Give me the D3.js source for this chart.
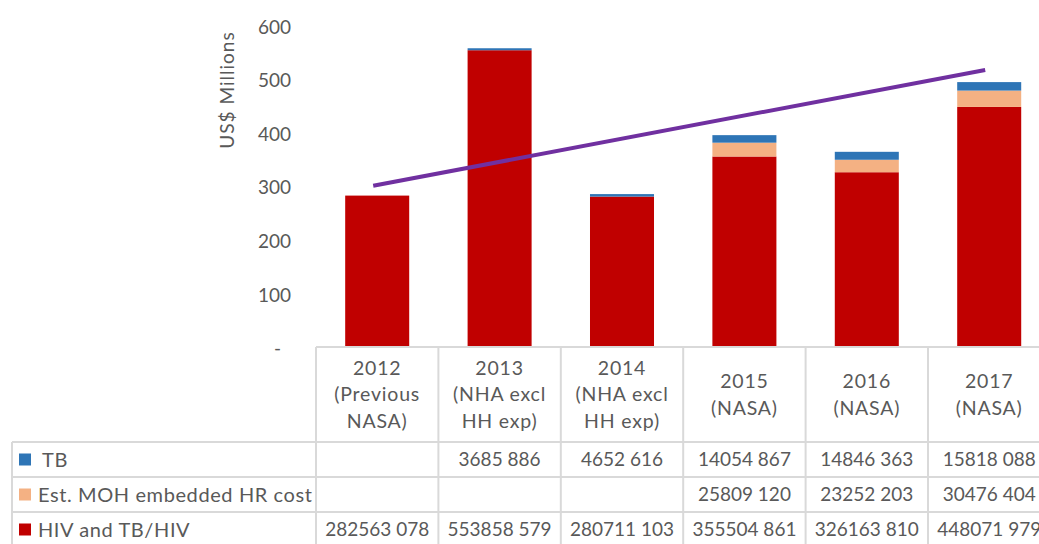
<!DOCTYPE html>
<html>
<head>
<meta charset="utf-8">
<script src="https://cdn.jsdelivr.net/npm/d3@7"></script>
<style>
  body { margin: 0; background: #fff; }
  svg text { font-family: Lato, "Open Sans", sans-serif; fill: #595959; }
</style>
</head>
<body>
<div id="chartArea"></div>
<script>
// data
var categories = [
  ["2012", "(Previous", "NASA)"],
  ["2013", "(NHA excl", "HH exp)"],
  ["2014", "(NHA excl", "HH exp)"],
  ["2015", "(NASA)"],
  ["2016", "(NASA)"],
  ["2017", "(NASA)"]
];
var tb = [null, 3685886, 4652616, 14054867, 14846363, 15818088];
var moh = [null, null, null, 25809120, 23252203, 30476404];
var hiv = [282563078, 553858579, 280711103, 355504861, 326163810, 448071979];
var trendCats = [0, 5];
var trendVals = [301, 517];
var yTicks = [0, 100, 200, 300, 400, 500, 600];

var seriesNames = ["TB", "Est. MOH embedded HR cost", "HIV and TB/HIV"];
var seriesData = [tb, moh, hiv];
var colors = ["#2E75B6", "#F4B183", "#C00000"];

var width = 1039, height = 544;

var svg = d3.select("#chartArea")
  .append("svg")
  .attr("width", width)
  .attr("height", height);

var x = d3.scaleBand()
  .domain(d3.range(categories.length))
  .range([316, 316 + 6 * 122.4])
  .paddingInner(0.477)
  .paddingOuter(0.2385);

var y = d3.scaleLinear().domain([0, 600]).range([347, 25.5]);

// y axis
var yAxis = d3.axisLeft(y)
  .tickValues(yTicks)
  .tickSize(0)
  .tickPadding(0)
  .tickFormat(function (d) { return d === 0 ? "-" : d; });

var gy = svg.append("g")
  .attr("transform", "translate(291,0)")
  .call(yAxis);
gy.select(".domain").remove();
gy.selectAll("text")
  .style("font-size", "19px")
  .style("fill", "#595959")
  .attr("dy", "0.4em");
gy.selectAll(".tick")
  .filter(function (d) { return d === 0; })
  .select("text")
  .attr("dx", -10);

svg.append("text")
  .attr("transform", "translate(234,90) rotate(-90)")
  .attr("text-anchor", "middle")
  .style("font-size", "19px")
  .style("letter-spacing", "1px")
  .text("US$ Millions");

// stacked bars (bottom: HIV, MOH, TB)
var stackOrder = [2, 1, 0];
categories.forEach(function (c, i) {
  var base = 0;
  stackOrder.forEach(function (s) {
    var v = seriesData[s][i];
    if (v == null) return;
    var m = v / 1e6;
    svg.append("rect")
      .attr("x", x(i))
      .attr("width", x.bandwidth())
      .attr("y", y(base + m))
      .attr("height", y(base) - y(base + m))
      .attr("fill", colors[s]);
    base += m;
  });
});

// trend line
var line = d3.line()
  .x(function (d) { return x(d[0]) + x.bandwidth() / 2 - 4; })
  .y(function (d) { return y(d[1]); });

svg.append("path")
  .datum(trendCats.map(function (c, i) { return [c, trendVals[i]]; }))
  .attr("d", line)
  .attr("fill", "none")
  .attr("stroke", "#7030A0")
  .attr("stroke-width", 4);

// data table
var tableLeft = 12, colLeft = 316, step = x.step();
var rowTops = [347, 442, 477, 512, 547];
var grid = svg.append("g")
  .attr("stroke", "#D9D9D9")
  .attr("stroke-width", 2);

grid.append("line").attr("x1", colLeft).attr("x2", width).attr("y1", rowTops[0]).attr("y2", rowTops[0]);
rowTops.slice(1).forEach(function (r) {
  grid.append("line").attr("x1", tableLeft).attr("x2", width).attr("y1", r).attr("y2", r);
});
grid.append("line").attr("x1", tableLeft).attr("x2", tableLeft).attr("y1", rowTops[1]).attr("y2", height);
d3.range(categories.length + 1).forEach(function (i) {
  var xx = colLeft + i * step;
  grid.append("line").attr("x1", xx).attr("x2", xx).attr("y1", rowTops[0]).attr("y2", height);
});

// header labels
categories.forEach(function (c, i) {
  var cx = x(i) + x.bandwidth() / 2;
  var lh = 26.5;
  var top = 394.5 - (c.length - 1) * lh / 2;
  var t = svg.append("text")
    .attr("text-anchor", "middle")
    .style("font-size", "19.5px")
    .style("letter-spacing", "0.8px");
  c.forEach(function (ln, k) {
    t.append("tspan")
      .attr("x", cx)
      .attr("y", top + k * lh)
      .attr("dy", "0.35em")
      .text(ln);
  });
});

function fmt(v) {
  var lo = v % 1000;
  return Math.floor(v / 1000) + " " + ("00" + lo).slice(-3);
}

seriesNames.forEach(function (name, s) {
  var cy = (rowTops[s + 1] + rowTops[s + 2]) / 2;
  svg.append("rect")
    .attr("x", 19)
    .attr("y", cy - 6)
    .attr("width", 12)
    .attr("height", 12)
    .attr("fill", colors[s]);
  svg.append("text")
    .attr("x", s === 0 ? 42 : 38)
    .attr("y", cy)
    .attr("dy", "0.35em")
    .style("font-size", "20px")
    .style("letter-spacing", "0.6px")
    .text(name);
  seriesData[s].forEach(function (v, i) {
    if (v == null) return;
    svg.append("text")
      .attr("x", x(i) + x.bandwidth() / 2)
      .attr("y", cy)
      .attr("dy", "0.35em")
      .attr("text-anchor", "middle")
      .style("font-size", "19px")
      .text(fmt(v));
  });
});
</script>
</body>
</html>
